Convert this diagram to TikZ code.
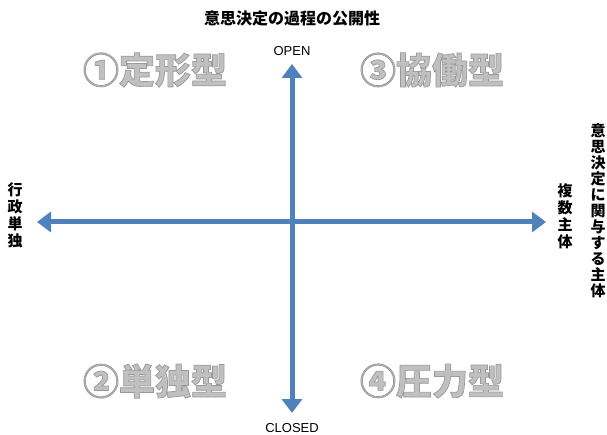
\documentclass[tikz,border=0pt]{standalone}
\usepackage{fontspec}
\usepackage{xcolor}
\usetikzlibrary{arrows.meta}
\setmainfont{Liberation Sans}
\newfontfamily\jpfont{Noto Sans CJK JP}
\definecolor{axisblue}{RGB}{79,129,189}
\definecolor{typegray}{RGB}{192,192,192}
% outlined text: fill, then stroke in a darker gray
\newcommand{\outlined}[1]{\special{pdf:code q 2 Tr 0.7 w 0.6 0.6 0.6 RG}#1\special{pdf:code Q}}

\tikzset{
    axis/.style={line width=5pt, axisblue, {Triangle[width=20pt,length=14pt]}-{Triangle[width=20pt,length=14pt]}},
    typelabel/.style={font=\jpfont\bfseries\fontsize{36}{38}\selectfont, text=typegray},
    sidelabel/.style={font=\jpfont\bfseries\fontsize{15}{17}\selectfont, align=center, inner sep=0pt},
}

\begin{document}
\begin{tikzpicture}[x=1pt,y=-1pt]
    \useasboundingbox (0,0) rectangle (607,435);

    % title and end labels
    \node (title) at (292,18) {\jpfont\bfseries\fontsize{16}{18}\selectfont 意思決定の過程の公開性};
    \node (open) at (292,51) {\fontsize{13}{15}\selectfont OPEN};
    \node (closed) at (292,428) {\fontsize{13}{15}\selectfont CLOSED};
    \node[sidelabel] (gyosei) at (15,215) {行\\政\\単\\独};
    \node[sidelabel] (fukusu) at (565,216) {複\\数\\主\\体};
    \node[sidelabel, font=\jpfont\bfseries\fontsize{15}{16}\selectfont] (shutai) at (598,211) {意\\思\\決\\定\\に\\関\\与\\す\\る\\主\\体};

    % the four types
    \node[typelabel] (teikei) at (155,70) {\outlined{①定形型}};
    \node[typelabel] (kyodo) at (432,70) {\outlined{③協働型}};
    \node[typelabel] (tandoku) at (155,381) {\outlined{②単独型}};
    \node[typelabel] (atsuryoku) at (432,381) {\outlined{④圧力型}};

    % axes
    \coordinate (top) at (292,64);
    \coordinate (bottom) at (292,413);
    \coordinate (left) at (37,222);
    \coordinate (right) at (546,222);
    \draw[axis] (bottom) -- (top);
    \draw[axis] (left) -- (right);
\end{tikzpicture}
\end{document}
